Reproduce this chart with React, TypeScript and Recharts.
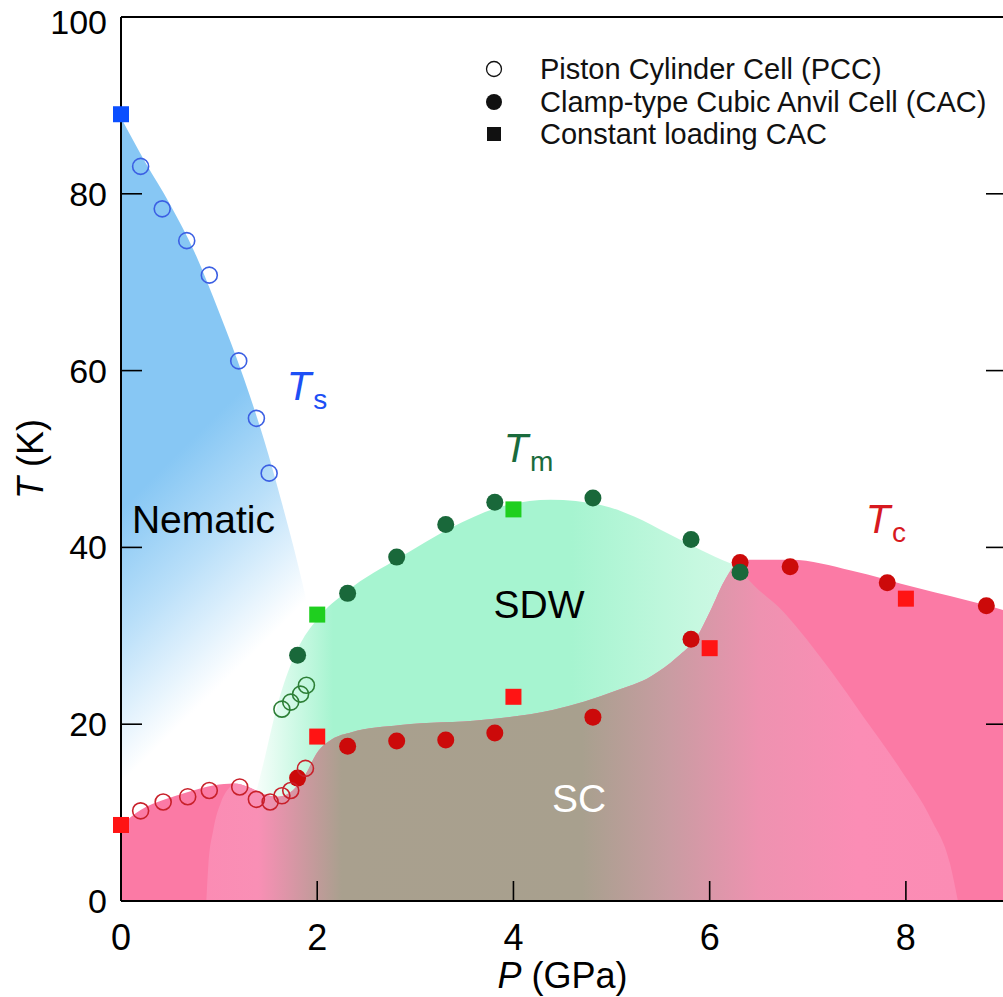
import React from 'react';
import { ComposedChart, Area, Scatter, XAxis, YAxis, ReferenceDot } from 'recharts';

const FONT = 'Arial, "Liberation Sans", Helvetica, sans-serif';

// axis ticks
const pTicks = [0, 2, 4, 6, 8];
const tTicks = [0, 20, 40, 60, 80, 100];
const pInnerTicks = [2, 4, 6, 8];
const tInnerTicks = [20, 40, 60, 80];

// phase boundaries: [P (GPa), T (K)]
const nematicEdge = [
  [0, 88.6], [0.25, 83.5], [0.5, 78.8], [0.75, 73.4], [1.0, 66.6], [1.25, 59.2],
  [1.5, 50.6], [1.65, 44.6], [1.8, 38.2], [1.92, 32.4], [2.02, 26.5],
];
const sdwEdge = [
  [1.3, 9], [1.45, 15.5], [1.6, 22.4], [1.8, 28.5], [2.0, 31.9], [2.3, 35.0], [2.85, 38.9],
  [3.36, 42.2], [3.87, 44.6], [4.38, 45.4], [4.89, 44.8], [5.23, 43.5], [5.57, 41.6],
  [5.91, 39.7], [6.21, 38.2], [6.36, 37.6],
];
const tcEdge = [
  [0, 8.6], [0.2, 10.3], [0.45, 11.5], [0.7, 12.4], [0.95, 13.1], [1.15, 13.3], [1.3, 12.9],
  [1.45, 12.1], [1.6, 11.8], [1.75, 12.5], [1.88, 14.3], [2.0, 16.8], [2.15, 18.3],
  [2.35, 19.1], [2.85, 19.9], [3.7, 20.5], [4.4, 21.6], [5.05, 23.8], [5.4, 25.4],
  [5.67, 27.6], [5.87, 29.9], [6.01, 32.9], [6.15, 36.2], [6.28, 38.1], [6.4, 38.6],
  [6.83, 38.6], [7.44, 37.4], [8.12, 35.4], [8.8, 33.5], [9.0, 32.9],
];
const scLeftArc = [[0.87, 0], [0.89, 4], [0.94, 8], [1.02, 11.2], [1.12, 13.0]];
const scRightArc = [
  [6.35, 37.0], [6.76, 32.6], [7.23, 26.1], [7.57, 20.8], [7.95, 14.8], [8.26, 9.2],
  [8.45, 4.2], [8.53, 0],
];

// measured points
const tsSquare = [[0, 89.0]];
const tsOpen = [[0.2, 83.1], [0.42, 78.3], [0.67, 74.7], [0.9, 70.8], [1.2, 61.1], [1.38, 54.6], [1.51, 48.4]];
const tmFilled = [[1.8, 27.8], [2.31, 34.8], [2.81, 38.9], [3.31, 42.6], [3.81, 45.1], [4.81, 45.6], [5.81, 40.9], [6.31, 37.2]];
const tmSquare = [[2.0, 32.4], [4.0, 44.3]];
const tmOpen = [[1.64, 21.7], [1.73, 22.5], [1.83, 23.4], [1.89, 24.4]];
const tcOpen = [[0.2, 10.2], [0.43, 11.2], [0.68, 11.8], [0.9, 12.5], [1.21, 12.9], [1.38, 11.5], [1.52, 11.2], [1.64, 11.9], [1.73, 12.5], [1.88, 15.0]];
const tcFilled = [[1.8, 13.9], [2.31, 17.5], [2.81, 18.1], [3.31, 18.2], [3.81, 19.0], [4.81, 20.8], [5.81, 29.6], [6.31, 38.3], [6.82, 37.8], [7.81, 36.0], [8.82, 33.4]];
const tcSquare = [[0, 8.6], [2.0, 18.6], [4.0, 23.1], [6.0, 28.6], [8.0, 34.2]];

const rows = (pts: number[][]) => pts.map(([p, t]) => ({ p, t }));
const scOverlay = [
  ...scLeftArc,
  ...tcEdge.filter(([p]) => p > 1.12 && p < 6.33),
  ...scRightArc,
];

// inward tick marks sit on top of the filled regions, so draw them as a layer of their own
const leftTickRows = tInnerTicks.map((t) => ({ p: 0, t }));
const rightTickRows = tInnerTicks.map((t) => ({ p: 9, t }));
const bottomTickRows = pInnerTicks.map((p) => ({ p, t: 0 }));

const hTick = (len: number) => (props: any) => (
  <line x1={props.cx} y1={props.cy} x2={props.cx + len} y2={props.cy} stroke="#000" strokeWidth={1.6} />
);
const vTick = (len: number) => (props: any) => (
  <line x1={props.cx} y1={props.cy} x2={props.cx} y2={props.cy - len} stroke="#000" strokeWidth={1.6} />
);

const openCircle = (color: string) => (props: any) => (
  <circle cx={props.cx} cy={props.cy} r={8} fill="none" stroke={color} strokeWidth={1.6} />
);
const dot = (color: string) => (props: any) => (
  <circle cx={props.cx} cy={props.cy} r={8.5} fill={color} />
);
const square = (color: string) => (props: any) => (
  <rect x={props.cx - 8} y={props.cy - 8} width={16} height={16} fill={color} />
);

// left tick labels; the topmost one is nudged down so it stays on the page
const YTick = (props: any) => {
  const { x, y, payload } = props;
  const shift = payload.value === 100 ? 5 : 0;
  return (
    <text x={x} y={y + shift} textAnchor="end" dominantBaseline="central" fontFamily={FONT} fontSize={34} fill="#000">
      {payload.value}
    </text>
  );
};

const phaseLabel = (main: string, sub: string, color: string) => (props: any) => {
  const { x, y } = props.viewBox;
  return (
    <text x={x} y={y} fill={color} fontFamily={FONT} fontSize={40}>
      <tspan fontStyle="italic">{main}</tspan>
      <tspan fontSize={28} dx={2} dy={9}>{sub}</tspan>
    </text>
  );
};
const regionLabel = (text: string, color: string) => (props: any) => {
  const { x, y } = props.viewBox;
  return (
    <text x={x} y={y} fill={color} fontFamily={FONT} fontSize={39} textAnchor="middle">
      {text}
    </text>
  );
};

const yTitle = (props: any) => {
  const { x, y, height } = props.viewBox;
  const cx = x + 43;
  const cy = y + height / 2;
  return (
    <text x={cx} y={cy} transform={`rotate(-90 ${cx} ${cy})`} textAnchor="middle" fontFamily={FONT} fontSize={36} fill="#000">
      <tspan fontStyle="italic">T</tspan> (K)
    </text>
  );
};
const xTitle = (props: any) => {
  const { x, y, width } = props.viewBox;
  return (
    <text x={x + width / 2} y={y + 87} textAnchor="middle" fontFamily={FONT} fontSize={36} fill="#000">
      <tspan fontStyle="italic">P</tspan> (GPa)
    </text>
  );
};

const legendItems = [
  { label: 'Piston Cylinder Cell (PCC)', icon: 'open' },
  { label: 'Clamp-type Cubic Anvil Cell (CAC)', icon: 'dot' },
  { label: 'Constant loading CAC', icon: 'square' },
];

function LegendBox() {
  return (
    <div style={{ position: 'absolute', left: 484, top: 53, fontFamily: FONT, fontSize: 29, lineHeight: '32.5px', color: '#111' }}>
      {legendItems.map((it) => (
        <div key={it.label} style={{ display: 'flex', alignItems: 'center', height: 32.5, whiteSpace: 'nowrap' }}>
          <svg width={20} height={20} style={{ marginRight: 36 }}>
            {it.icon === 'open' && <circle cx={10} cy={10} r={7.5} fill="none" stroke="#111" strokeWidth={1.3} />}
            {it.icon === 'dot' && <circle cx={10} cy={10} r={8} fill="#111" />}
            {it.icon === 'square' && <rect x={3} y={3} width={14} height={14} fill="#111" />}
          </svg>
          <span>{it.label}</span>
        </div>
      ))}
    </div>
  );
}

export default function App() {
  const xTickStyle = { fill: '#000', fontSize: 36, fontFamily: FONT };
  return (
    <div style={{ position: 'absolute', left: 0, top: 0, width: 1003, height: 997, overflow: 'hidden', background: '#fff' }}>
      <ComposedChart width={1011} height={997} margin={{ top: 0, right: 0, bottom: 0, left: 0 }}>
        <defs>
          <linearGradient id="nematicFill" x1="0" y1="0" x2="0.25" y2="1">
            <stop offset="0.47" stopColor="#87c7f4" />
            <stop offset="0.62" stopColor="#b9dff9" />
            <stop offset="0.8" stopColor="#ffffff" />
          </linearGradient>
          <linearGradient id="sdwFill" x1="0" y1="0" x2="1" y2="0">
            <stop offset="0" stopColor="#a6f4d0" stopOpacity={0} />
            <stop offset="0.17" stopColor="#a6f4d0" stopOpacity={1} />
            <stop offset="0.65" stopColor="#a6f4d0" />
            <stop offset="0.9" stopColor="#c6f8e0" />
            <stop offset="1" stopColor="#d0f9e6" />
          </linearGradient>
          <linearGradient id="scFill" x1="0" y1="0" x2="1" y2="0">
            <stop offset="0" stopColor="#fb8cb4" />
            <stop offset="0.069" stopColor="#f98fb5" />
            <stop offset="0.18" stopColor="#a9a08e" />
            <stop offset="0.5" stopColor="#a8a08e" />
            <stop offset="0.617" stopColor="#c99ca2" />
            <stop offset="0.735" stopColor="#ee92b0" />
            <stop offset="0.866" stopColor="#fb8db5" />
            <stop offset="1" stopColor="#fb8cb4" />
          </linearGradient>
        </defs>

        <Area data={rows(nematicEdge)} dataKey="t" type="monotone" stroke="none" fill="url(#nematicFill)" fillOpacity={1} dot={false} activeDot={false} isAnimationActive={false} />
        <Area data={rows(sdwEdge)} dataKey="t" type="monotone" stroke="none" fill="url(#sdwFill)" fillOpacity={1} dot={false} activeDot={false} isAnimationActive={false} />
        <Area data={rows(tcEdge)} dataKey="t" type="monotone" stroke="none" fill="#fb7aa5" fillOpacity={1} dot={false} activeDot={false} isAnimationActive={false} />
        <Area data={rows(scOverlay)} dataKey="t" type="monotone" stroke="none" fill="url(#scFill)" fillOpacity={1} dot={false} activeDot={false} isAnimationActive={false} />

        <XAxis
          dataKey="p"
          type="number"
          domain={[0, 9]}
          ticks={pTicks}
          interval={0}
          height={96}
          tickSize={-20}
          tickMargin={43}
          tick={xTickStyle}
          axisLine={{ stroke: '#000', strokeWidth: 2 }}
          tickLine={false}
          label={{ content: xTitle }}
        />
        <XAxis xAxisId="top" orientation="top" type="number" domain={[0, 9]} height={17} tick={false} tickLine={false} axisLine={{ stroke: '#000', strokeWidth: 2 }} />
        <YAxis
          dataKey="t"
          type="number"
          domain={[0, 100]}
          ticks={tTicks}
          interval={0}
          width={121}
          tickSize={-21}
          tickMargin={35}
          tick={YTick}
          axisLine={{ stroke: '#000', strokeWidth: 2 }}
          tickLine={false}
          label={{ content: yTitle }}
        />
        <YAxis yAxisId="r" orientation="right" type="number" domain={[0, 100]} ticks={tInnerTicks} width={7} tick={false} tickLine={false} axisLine={{ stroke: '#000', strokeWidth: 2 }} />

        <Scatter data={leftTickRows} dataKey="t" shape={hTick(21)} isAnimationActive={false} />
        <Scatter data={rightTickRows} dataKey="t" shape={hTick(-18)} isAnimationActive={false} />
        <Scatter data={bottomTickRows} dataKey="t" shape={vTick(20)} isAnimationActive={false} />

        <Scatter data={rows(tcFilled)} dataKey="t" shape={dot('#cc0a0a')} isAnimationActive={false} />
        <Scatter data={rows(tcOpen)} dataKey="t" shape={openCircle('#c8202a')} isAnimationActive={false} />
        <Scatter data={rows(tcSquare)} dataKey="t" shape={square('#ff1414')} isAnimationActive={false} />
        <Scatter data={rows(tmOpen)} dataKey="t" shape={openCircle('#2d7f36')} isAnimationActive={false} />
        <Scatter data={rows(tmFilled)} dataKey="t" shape={dot('#19683a')} isAnimationActive={false} />
        <Scatter data={rows(tmSquare)} dataKey="t" shape={square('#1fcf1f')} isAnimationActive={false} />
        <Scatter data={rows(tsOpen)} dataKey="t" shape={openCircle('#3b5fe3')} isAnimationActive={false} />
        <Scatter data={rows(tsSquare)} dataKey="t" shape={square('#0b4fff')} isAnimationActive={false} />

        <ReferenceDot x={1.69} y={56.7} r={0} stroke="none" fill="none" label={{ content: phaseLabel('T', 's', '#1d4ff5') }} />
        <ReferenceDot x={3.9} y={49.7} r={0} stroke="none" fill="none" label={{ content: phaseLabel('T', 'm', '#1a6b3c') }} />
        <ReferenceDot x={7.59} y={41.6} r={0} stroke="none" fill="none" label={{ content: phaseLabel('T', 'c', '#d7191f') }} />
        <ReferenceDot x={0.84} y={41.6} r={0} stroke="none" fill="none" label={{ content: regionLabel('Nematic', '#000') }} />
        <ReferenceDot x={4.26} y={32.0} r={0} stroke="none" fill="none" label={{ content: regionLabel('SDW', '#000') }} />
        <ReferenceDot x={4.67} y={10.1} r={0} stroke="none" fill="none" label={{ content: regionLabel('SC', '#ffffff') }} />
      </ComposedChart>
      <LegendBox />
    </div>
  );
}
